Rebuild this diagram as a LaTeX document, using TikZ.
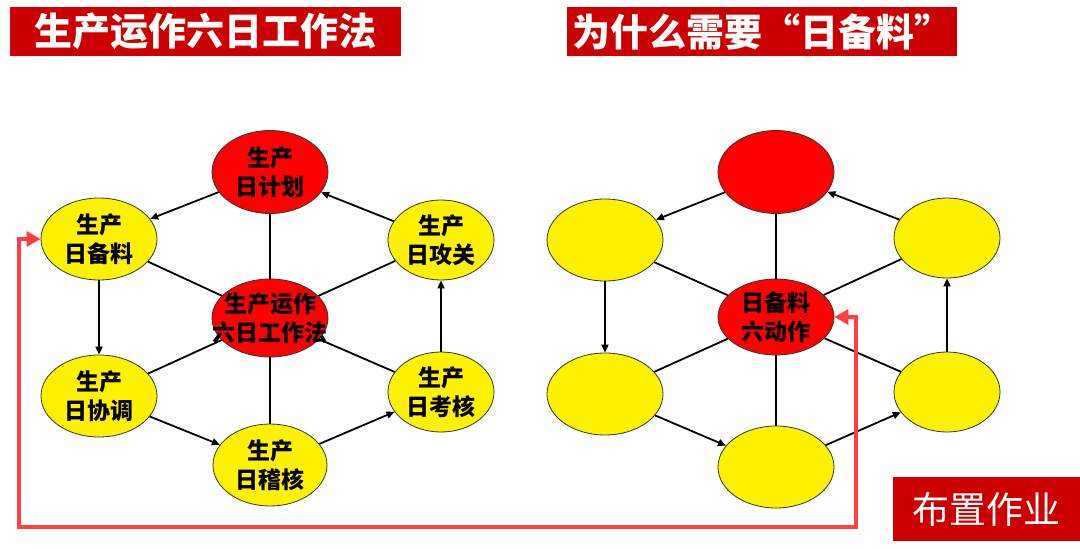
\documentclass[tikz,border=0pt]{standalone}
\usepackage{fontspec}
\newfontfamily\cjk{Noto Sans CJK SC}
\usetikzlibrary{shapes.geometric,arrows.meta}
\definecolor{titlered}{HTML}{CC0000}
\definecolor{linkred}{HTML}{FF4040}
\begin{document}
\begin{tikzpicture}[x=1pt,y=-1pt,
  yel/.style={ellipse,draw=black!80,line width=0.8pt,fill=yellow,minimum width=116pt,minimum height=82pt,inner sep=0pt},
  yelr/.style={yel,minimum width=106pt,minimum height=80pt},
  rednode/.style={ellipse,draw=black!80,line width=0.8pt,fill=red,minimum width=116pt,minimum height=80pt,inner sep=0pt},
  txt/.style={font=\cjk\bfseries\fontsize{23}{29}\selectfont,align=center,inner sep=0pt,text=black},
  titlebox/.style={fill=titlered,inner sep=0pt,minimum height=49pt,font=\cjk\bfseries\fontsize{38}{40}\selectfont,text=white},
  conn/.style={line width=1.8pt,black},
  arr/.style={conn,-{Triangle[length=8pt,width=7pt]}},
  redlink/.style={line width=4pt,linkred,{Triangle[length=14pt,width=15pt]}-{Triangle[length=14pt,width=15pt]}}
]
\useasboundingbox (0,0) rectangle (1080,549);
\fill[white] (0,0) rectangle (1080,549);
% titles
\node[titlebox,minimum width=391pt] (t1) at (205.5,31.5) {生产运作六日工作法};
\node[titlebox,minimum width=390pt] (t2) at (762,31.5) {为什么需要“日备料”};
\node[fill=titlered,inner sep=0pt,minimum width=187pt,minimum height=64pt,font=\cjk\fontsize{37}{40}\selectfont,text=white] (hw) at (986.5,509) {布置作业};
% left graph
\node[rednode,minimum height=83pt] (lJ) at (270,172) {};
\node[yel] (lB) at (99,239) {};
\node[yelr] (lG) at (441,240) {};
\node[rednode,minimum height=78pt] (lC) at (270,318) {};
\node[yel] (lX) at (99,396) {};
\node[yelr] (lK) at (441,392) {};
\node[yel,minimum width=114pt] (lH) at (270,465) {};
\node[txt] (tJ) at (lJ) {生产\\日计划};
\node[txt] (tB) at (lB) {生产\\日备料};
\node[txt] (tG) at (lG) {生产\\日攻关};
\node[txt] (tC) at (lC) {生产运作\\六日工作法};
\node[txt] (tX) at (lX) {生产\\日协调};
\node[txt] (tK) at (lK) {生产\\日考核};
\node[txt] (tH) at (lH) {生产\\日稽核};
% right graph
\node[rednode,minimum height=83pt] (rJ) at (776,172) {};
\node[yel] (rB) at (605,240) {};
\node[yelr] (rG) at (947,238) {};
\node[rednode,minimum height=76pt] (rC) at (776,317) {};
\node[yel] (rX) at (605,394) {};
\node[yelr] (rK) at (947,392) {};
\node[yel] (rH) at (776,467) {};
\node[txt] (trC) at (rC) {日备料\\六动作};
% connectors
\foreach \p in {l,r}{
  \draw[conn] (\p C) -- (\p J);
  \draw[conn] (\p C) -- (\p H);
  \draw[conn] (\p C) -- (\p B);
  \draw[conn] (\p C) -- (\p G);
  \draw[conn] (\p C) -- (\p X);
  \draw[conn] (\p C) -- (\p K);
  \draw[arr] (\p J) -- (\p B);
  \draw[arr] (\p B) -- (\p X);
  \draw[arr] (\p X) -- (\p H);
  \draw[arr] (\p H) -- (\p K);
  \draw[arr] (\p K) -- (\p G);
  \draw[arr] (\p G) -- (\p J);
}
% red link
\coordinate (r1) at (19,239);
\coordinate (r2) at (19,527);
\coordinate (r3) at (856,527);
\coordinate (r4) at (856,317);
\draw[redlink] (lB.west |- r1) -- (r1) -- (r2) -- (r3) -- (r4) -- (rC.east |- r4);
\end{tikzpicture}
\end{document}
